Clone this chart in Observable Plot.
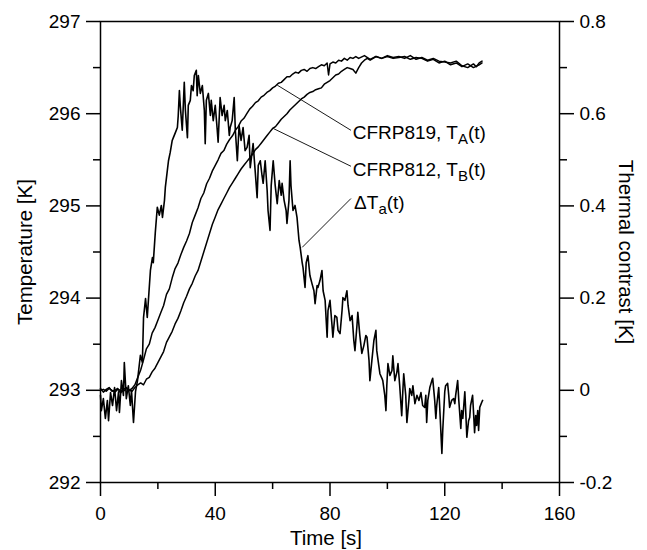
<!DOCTYPE html>
<html><head><meta charset="utf-8">
<script src="https://cdn.jsdelivr.net/npm/d3@7"></script>
<script src="https://cdn.jsdelivr.net/npm/@observablehq/plot@0.6"></script>
<style>
body{margin:0;background:#fff;}
svg{font-family:"Liberation Sans",Arial,sans-serif;}
</style>
</head><body><div id="chart"></div>
<script>
// CFRP819, T_A(t)  (left axis, K)
const timeA = [0,1,2,3,4,5,6,7,8,9,10,11,12,13,14,15,16,17,18,19,20,21,22,23,24,25,26,27,28,29,30,31,32,33,34,35,36,37,38,39,40,41,42,43,44,45,46,47,48,49,50,51,52,53,54,55,56,57,58,59,60,61,62,63,64,65,66,67,68,69,70,71,72,73,74,75,76,77,78,79,79.5,80,81,82,83,84,85,86,87,88,89,90,92,94,96,98,100,102,104,106,108,110,112,114,116,118,120,122,124,126,128,130,131,132,133];
const tempA = [293.02,292.98,293.01,293.03,292.99,293.00,293.02,292.97,293.01,293.03,293.00,293.02,293.06,293.14,293.22,293.33,293.45,293.50,293.62,293.68,293.76,293.84,293.92,294.04,294.10,294.22,294.32,294.38,294.47,294.55,294.62,294.70,294.82,294.90,294.98,295.08,295.14,295.24,295.30,295.38,295.44,295.50,295.57,295.60,295.67,295.72,295.76,295.82,295.86,295.92,295.95,296.00,296.05,296.08,296.12,296.14,296.18,296.20,296.23,296.25,296.28,296.30,296.33,296.34,296.37,296.40,296.40,296.43,296.45,296.44,296.47,296.48,296.46,296.49,296.50,296.49,296.51,296.53,296.52,296.55,296.42,296.54,296.56,296.55,296.58,296.57,296.60,296.58,296.61,296.60,296.62,296.60,296.63,296.59,296.62,296.60,296.63,296.61,296.62,296.60,296.63,296.59,296.61,296.58,296.60,296.57,296.56,296.55,296.57,296.52,296.50,296.54,296.51,296.55,296.57];

// CFRP812, T_B(t)  (left axis, K)
const timeB = [0,1,2,3,4,5,6,7,8,9,10,11,12,13,14,15,16,17,18,19,20,21,22,23,24,25,26,27,28,29,30,31,32,33,34,35,36,37,38,39,40,41,42,43,44,45,46,47,48,49,50,51,52,53,54,55,56,57,58,59,60,61,62,63,64,65,66,67,68,69,70,71,72,73,74,75,76,77,78,79,80,81,82,83,84,85,86,87,88,89,90,91,92,93,94,96,98,100,102,104,106,108,110,112,114,116,118,120,122,124,126,128,130,132,133];
const tempB = [293.00,293.01,292.99,293.02,293.00,292.98,293.01,293.00,292.99,293.02,293.00,292.99,293.03,293.06,293.08,293.06,293.12,293.14,293.20,293.24,293.30,293.36,293.42,293.52,293.58,293.64,293.72,293.78,293.86,293.95,294.02,294.10,294.16,294.24,294.30,294.40,294.50,294.60,294.70,294.80,294.88,294.96,295.02,295.08,295.14,295.20,295.25,295.30,295.35,295.40,295.44,295.48,295.52,295.56,295.61,295.64,295.68,295.72,295.76,295.80,295.84,295.86,295.90,295.94,295.97,296.00,296.04,296.07,296.10,296.13,296.16,296.18,296.21,296.23,296.24,296.26,296.27,296.28,296.32,296.34,296.36,296.39,296.42,296.43,296.46,296.48,296.50,296.49,296.48,296.44,296.50,296.55,296.58,296.60,296.58,296.62,296.60,296.62,296.60,296.61,296.62,296.59,296.61,296.60,296.57,296.59,296.55,296.57,296.53,296.55,296.51,296.54,296.50,296.53,296.55];

// Delta T_a(t)  (right axis, K)
const timeD = [0,0.3,1.0,1.7,2.4,2.8,3.5,4.2,4.9,5.6,6.3,6.6,7.3,8.0,8.3,9.0,9.7,10.4,10.8,11.5,12.2,12.9,13.9,14.6,15.0,15.7,16.3,16.7,17.4,18.1,18.4,19.1,19.8,20.5,21.2,21.6,22.3,22.6,23.3,23.7,24.3,25.0,25.4,26.1,26.8,27.1,27.5,27.8,28.5,29.2,29.6,30.3,30.6,31.3,31.7,32.3,32.7,33.4,33.7,34.1,34.8,35.5,36.2,36.5,36.9,37.6,38.3,38.6,39.3,40.0,40.7,41.0,41.7,42.4,43.1,43.5,44.2,44.9,45.2,45.9,46.6,47.0,47.7,48.3,49.0,49.7,50.4,51.1,51.8,52.2,52.9,53.2,53.9,54.6,55.0,55.7,56.3,56.7,57.4,58.1,58.4,59.1,59.5,60.2,60.9,61.6,62.3,63.0,63.3,64.0,64.7,65.0,65.7,66.1,66.4,67.1,67.8,68.5,69.2,69.6,70.3,70.6,71.3,71.7,72.3,73.0,73.7,74.4,74.8,75.5,75.8,76.5,77.2,77.6,78.3,79.0,79.3,80.0,80.7,81.0,81.7,82.4,82.8,83.5,84.2,84.5,85.2,85.9,86.3,87.0,87.7,88.3,88.7,89.4,89.7,90.4,91.1,91.8,92.5,92.9,93.6,93.9,94.6,95.3,96.0,96.3,97.0,97.4,98.1,98.4,99.1,99.5,99.8,100.2,100.9,101.6,101.9,102.3,102.6,103.3,103.7,104.3,105.0,105.4,105.7,106.4,106.8,107.5,107.8,108.5,108.9,109.6,110.3,111.0,111.7,112.3,113.0,113.4,113.7,114.1,114.8,115.5,115.8,116.5,116.9,117.2,117.9,118.3,119.0,119.3,120.0,120.3,121.0,121.4,121.7,122.4,123.1,123.5,123.8,124.5,124.9,125.6,125.9,126.3,127.0,127.3,127.7,128.3,128.7,129.0,129.7,130.1,130.4,130.8,131.1,131.5,131.8,132.2,132.9,133.2];
const contrastD = [-0.011,-0.044,-0.018,-0.061,-0.022,-0.066,-0.005,-0.033,0.006,-0.044,-0.003,-0.048,0.021,-0.011,0.060,-0.018,0.010,-0.033,0.000,-0.070,-0.003,0.021,0.076,0.060,0.158,0.199,0.158,0.195,0.260,0.288,0.277,0.342,0.397,0.380,0.401,0.375,0.412,0.440,0.477,0.498,0.516,0.542,0.548,0.559,0.570,0.596,0.650,0.618,0.564,0.668,0.607,0.548,0.618,0.629,0.661,0.650,0.683,0.694,0.639,0.683,0.644,0.661,0.607,0.535,0.629,0.644,0.596,0.629,0.585,0.618,0.564,0.538,0.635,0.596,0.618,0.585,0.607,0.553,0.570,0.585,0.635,0.564,0.498,0.574,0.542,0.570,0.520,0.527,0.553,0.483,0.520,0.535,0.477,0.418,0.488,0.498,0.466,0.449,0.498,0.433,0.390,0.347,0.444,0.498,0.444,0.405,0.455,0.423,0.449,0.412,0.390,0.362,0.412,0.498,0.444,0.390,0.401,0.375,0.325,0.310,0.277,0.266,0.223,0.277,0.292,0.249,0.232,0.216,0.188,0.227,0.223,0.238,0.260,0.216,0.195,0.115,0.173,0.195,0.141,0.115,0.162,0.158,0.130,0.123,0.173,0.201,0.195,0.216,0.184,0.151,0.162,0.108,0.086,0.141,0.169,0.119,0.080,0.097,0.119,0.115,0.065,0.021,0.065,0.108,0.130,0.086,0.054,0.036,0.026,0.021,-0.011,-0.044,0.010,0.058,0.032,0.043,0.075,0.043,0.021,0.039,0.058,0.010,-0.055,0.000,0.036,-0.011,-0.070,-0.022,0.004,-0.011,0.010,-0.029,-0.011,-0.022,-0.005,-0.033,-0.037,-0.011,-0.070,-0.022,0.006,0.021,0.026,-0.022,-0.061,-0.033,0.006,-0.044,-0.137,-0.087,-0.003,0.010,0.015,-0.011,-0.037,-0.022,-0.018,-0.029,-0.011,0.021,-0.022,-0.083,-0.044,-0.061,-0.003,-0.044,-0.102,-0.066,-0.059,-0.033,-0.011,-0.055,-0.092,-0.055,-0.076,-0.044,-0.087,-0.037,-0.026,-0.022];

const xTicks = [0, 40, 80, 120, 160];
const xMinor = [20, 60, 100, 140];
const yTicks = [292, 293, 294, 295, 296, 297];
const yMinor = [292.5, 293.5, 294.5, 295.5, 296.5];
const rTicks = [-0.2, 0, 0.2, 0.4, 0.6, 0.8];
const rMinor = [-0.1, 0.1, 0.3, 0.5, 0.7];

// curve labels (in time / temperature units) and their leader lines
const labelText = ["CFRP819, T_A(t)", "CFRP812, T_B(t)", "ΔT_a(t)"];
const labelTime = [87.9, 87.9, 88.4];
const labelTemp = [295.79, 295.395, 295.03];
const leaderFromTime = [87.3, 87.3, 87.3];
const leaderFromTemp = [295.82, 295.43, 295.08];
const leaderToTime = [61.6, 60.2, 70.3];
const leaderToTemp = [296.31, 295.84, 294.55];

// right axis (thermal contrast) mapped onto the temperature scale
const toLeft = v => 292 + (v + 0.2) * 5;
const fromLeft = d => { const v = Math.round(((d - 292) / 5 - 0.2) * 10) / 10; return String(v === 0 ? 0 : v); };

const seriesA = timeA.map((t, i) => ({t, T: tempA[i]}));
const seriesB = timeB.map((t, i) => ({t, T: tempB[i]}));
const seriesD = timeD.map((t, i) => ({t, T: toLeft(contrastD[i])}));
const labels = labelText.map((s, i) => ({s, t: labelTime[i], T: labelTemp[i]}));
const leaders = labelText.map((s, i) => ({x1: leaderFromTime[i], y1: leaderFromTemp[i], x2: leaderToTime[i], y2: leaderToTemp[i]}));

const F = 19;
const axisStyle = {stroke: "black", strokeWidth: 1.5, fontSize: F, label: null};
const minorStyle = {stroke: "black", strokeWidth: 1.5, label: null, fill: "none", tickFormat: () => ""};

const chart = Plot.plot({
  width: 647, height: 550,
  marginLeft: 100, marginRight: 88, marginTop: 21, marginBottom: 68,
  x: {domain: [0, 160]},
  y: {domain: [292, 297]},
  style: {fontFamily: "'Liberation Sans', Arial, sans-serif", color: "black", background: "white", overflow: "visible"},
  marks: [
    Plot.line(seriesD, {x: "t", y: "T", stroke: "black", strokeWidth: 1.6}),
    Plot.line(seriesB, {x: "t", y: "T", stroke: "black", strokeWidth: 1.5}),
    Plot.line(seriesA, {x: "t", y: "T", stroke: "black", strokeWidth: 1.5}),
    Plot.link(leaders, {x1: "x1", y1: "y1", x2: "x2", y2: "y2", stroke: "black", strokeWidth: 0.9}),
    Plot.text(labels, {x: "t", y: "T", text: "s", textAnchor: "start", lineAnchor: "middle", fontSize: F, fill: "black"}),
    Plot.axisX(xTicks, {...axisStyle, tickSize: 14, tickPadding: 10, tickFormat: d => String(d)}),
    Plot.axisX(xMinor, {...minorStyle, tickSize: 7}),
    Plot.axisY(yTicks, {...axisStyle, anchor: "left", tickSize: 14, tickPadding: 6, tickFormat: d => String(d)}),
    Plot.axisY(yMinor, {...minorStyle, anchor: "left", tickSize: 7}),
    Plot.axisY(rTicks.map(toLeft), {...axisStyle, anchor: "right", tickSize: 14, tickPadding: 6, tickFormat: fromLeft}),
    Plot.axisY(rMinor.map(toLeft), {...minorStyle, anchor: "right", tickSize: 7}),
    Plot.frame({stroke: "black", strokeWidth: 1.5}),
    Plot.text(["Temperature [K]"], {frameAnchor: "left", dx: -75, rotate: -90, textAnchor: "middle", lineAnchor: "middle", fontSize: 20.5, fill: "black"}),
    Plot.text(["Thermal contrast [K]"], {frameAnchor: "right", dx: 66, rotate: 90, textAnchor: "middle", lineAnchor: "middle", fontSize: 20.5, fill: "black"}),
    Plot.text(["Time [s]"], {frameAnchor: "bottom", dx: -4, dy: 56, textAnchor: "middle", lineAnchor: "middle", fontSize: 20.5, fill: "black"})
  ]
});

// render subscripts: "X_Y" -> X with subscript Y
chart.querySelectorAll("text").forEach(el => {
  const s = el.textContent;
  const k = s.indexOf("_");
  if (k < 0) return;
  const before = s.slice(0, k), sub = s[k + 1], after = s.slice(k + 2);
  el.textContent = before;
  const ns = "http://www.w3.org/2000/svg";
  const t1 = document.createElementNS(ns, "tspan");
  t1.setAttribute("font-size", "15");
  t1.setAttribute("dy", "5");
  t1.textContent = sub;
  const t2 = document.createElementNS(ns, "tspan");
  t2.setAttribute("dy", "-5");
  t2.textContent = after;
  el.appendChild(t1);
  el.appendChild(t2);
});

document.getElementById("chart").appendChild(chart);
</script>
</body></html>
